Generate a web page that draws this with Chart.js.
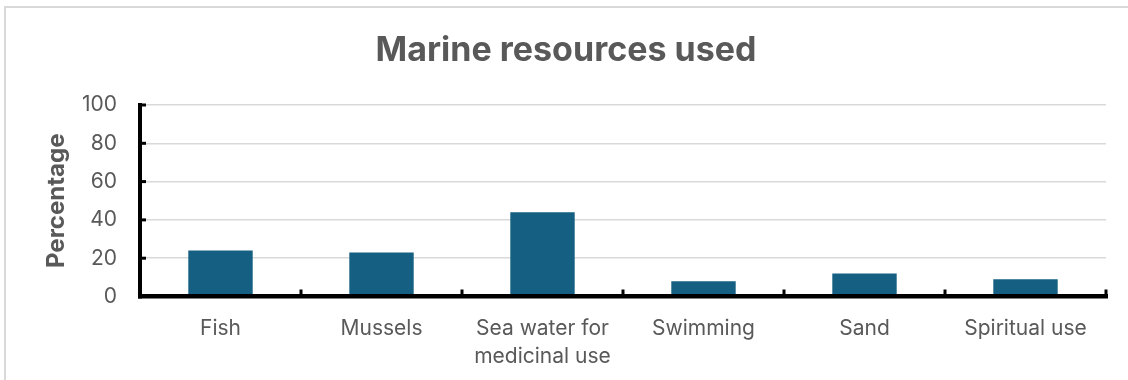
<!DOCTYPE html>
<html>
<head>
<meta charset="utf-8">
<title>Marine resources used</title>
<script src="https://cdn.jsdelivr.net/npm/chart.js@4.4.1/dist/chart.umd.min.js"></script>
<style>
    html, body { margin: 0; padding: 0; background: #fff; }
    #marco {
        position: absolute; left: 4px; top: 6px; width: 1130px; height: 380px;
        border-left: 2px solid #d9d9d9; border-top: 2px solid #d9d9d9;
    }
    #grafico { position: absolute; left: 0; top: 0; }
</style>
</head>
<body>
<div id="marco"></div>
<canvas id="grafico" width="1128" height="380"></canvas>
<script>
// Datos del gráfico
const categorias = ['Fish', 'Mussels', ['Sea water for', 'medicinal use'], 'Swimming', 'Sand', 'Spiritual use'];
const porcentajes = [24, 23, 44, 8, 12, 9];
const ticksY = [0, 20, 40, 60, 80, 100];

const grisTexto = '#595959';

// Ejes negros gruesos con marcas hacia adentro, al estilo de Excel
const ejesGruesos = {
    id: 'ejesGruesos',
    afterDatasetsDraw: function(chart) {
        const ctx = chart.ctx;
        const area = chart.chartArea;
        const x = chart.scales.x;
        const y = chart.scales.y;
        const y0 = y.getPixelForValue(0);
        const yTop = y.getPixelForValue(ticksY[ticksY.length - 1]);

        ctx.save();
        ctx.fillStyle = '#000';

        // eje vertical
        ctx.fillRect(area.left - 2, yTop - 2, 4, y0 - yTop + 4);
        ticksY.forEach(function(v) {
            if (v === 0) return;
            ctx.fillRect(area.left, y.getPixelForValue(v) - 1.5, 6, 3);
        });

        // eje horizontal
        ctx.fillRect(area.left - 2, y0 - 2.5, area.right - area.left + 4, 4.5);
        for (let i = 1; i <= categorias.length; i++) {
            const bx = x.getPixelForValue(i - 0.5);
            ctx.fillRect(bx - 1.5, y0 - 7, 3, 7);
        }
        ctx.restore();
    }
};

const ctx = document.getElementById('grafico').getContext('2d');
const chart = new Chart(ctx, {
    type: 'bar',
    data: {
        labels: categorias,
        datasets: [{
            label: 'Percentage',
            data: porcentajes,
            backgroundColor: '#156082',
            borderWidth: 0,
            barPercentage: 0.4,
            categoryPercentage: 1.0
        }]
    },
    options: {
        responsive: false,
        animation: false,
        layout: {
            padding: { left: 26, right: 22, top: 0, bottom: 0 }
        },
        plugins: {
            legend: { display: false },
            tooltip: { enabled: false },
            title: {
                display: true,
                text: 'Marine resources used',
                color: grisTexto,
                font: { family: 'Inter', size: 34, weight: 'bold' },
                padding: { top: 30, bottom: 34.2 }
            }
        },
        scales: {
            x: {
                grid: { display: false, drawTicks: false },
                border: { display: false },
                ticks: {
                    color: grisTexto,
                    font: { family: 'Inter', size: 21, lineHeight: 1.33 },
                    padding: 18,
                    maxRotation: 0,
                    autoSkip: false
                },
                afterFit: function(scale) {
                    scale.height = 83.5;
                }
            },
            y: {
                min: 0,
                max: 100,
                grid: { color: '#d9d9d9', lineWidth: 1.5, drawTicks: false },
                border: { display: false },
                ticks: {
                    color: grisTexto,
                    font: { family: 'Inter', size: 21 },
                    padding: 23
                },
                afterBuildTicks: function(scale) {
                    scale.ticks = ticksY.map(function(v) { return { value: v }; });
                },
                afterFit: function(scale) {
                    scale.width = 114;
                },
                title: {
                    display: true,
                    text: 'Percentage',
                    color: grisTexto,
                    font: { family: 'Inter', size: 24, weight: 'bold' },
                    padding: { top: 16, bottom: 0 }
                }
            }
        }
    },
    plugins: [ejesGruesos]
});
</script>
</body>
</html>
